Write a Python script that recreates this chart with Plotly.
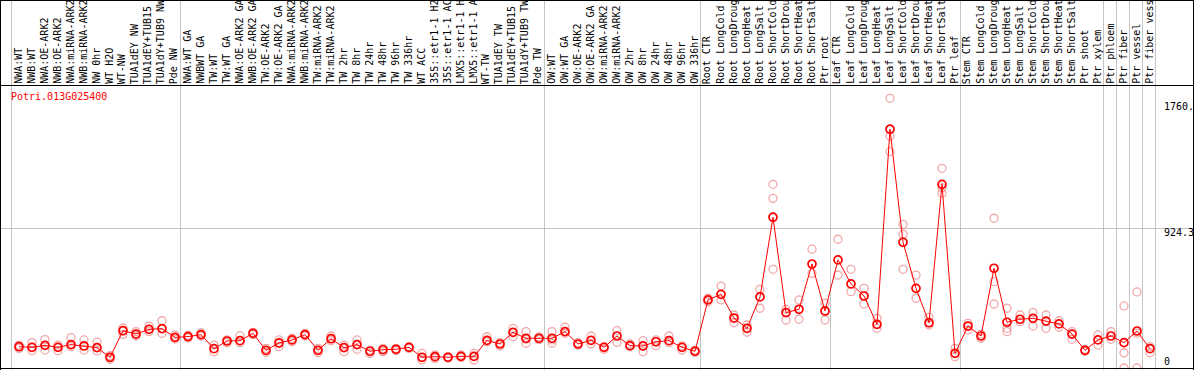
import plotly.graph_objects as go

categories = [
    "NWA:WT", "NWB:WT", "NWA:OE-ARK2", "NWB:OE-ARK2", "NWA:miRNA-ARK2", "NWB:miRNA-ARK2",
    "NW 0hr", "WT H2O", "WT-NW", "TUA1dEY NW", "TUA1dEY+TUB15 NW", "TUA1dY+TUB9 NW", "Pde NW",
    "NWA:WT GA", "NWBWT GA", "TW:WT", "TW:WT GA", "NWA:OE-ARK2 GA", "NWB:OE-ARK2 GA",
    "TW:OE-ARK2", "TW:OE-ARK2 GA", "NWA:miRNA-ARK2 GA", "NWB:miRNA-ARK2 GA", "TW:miRNA-ARK2",
    "TW:miRNA-ARK2 GA", "TW 2hr", "TW 8hr", "TW 24hr", "TW 48hr", "TW 96hr", "TW 336hr",
    "WT ACC", "35S::etr1-1 H2O", "35S::etr1-1 ACC", "LMX5::etr1-1 H2O", "LMX5::etr1-1 ACC",
    "WT-TW", "TUA1dEY TW", "TUA1dEY+TUB15 TW", "TUA1dY+TUB9 TW", "Pde TW",
    "OW:WT", "OW:WT GA", "OW:OE-ARK2", "OW:OE-ARK2 GA", "OW:miRNA-ARK2", "OW:miRNA-ARK2 GA",
    "OW 2hr", "OW 8hr", "OW 24hr", "OW 48hr", "OW 96hr", "OW 336hr",
    "Root CTR", "Root LongCold", "Root LongDrought", "Root LongHeat", "Root LongSalt",
    "Root ShortCold", "Root ShortDrought", "Root ShortHeat", "Root ShortSalt", "Ptr root",
    "Leaf CTR", "Leaf LongCold", "Leaf LongDrought", "Leaf LongHeat", "Leaf LongSalt",
    "Leaf ShortCold", "Leaf ShortDrought", "Leaf ShortHeat", "Leaf ShortSalt", "Ptr leaf",
    "Stem CTR", "Stem LongCold", "Stem LongDrought", "Stem LongHeat", "Stem LongSalt",
    "Stem ShortCold", "Stem ShortDrought", "Stem ShortHeat", "Stem ShortSalt", "Ptr shoot",
    "Ptr xylem", "Ptr phloem", "Ptr fiber", "Ptr vessel", "Ptr fiber vessel",
]

mean_values = [
    141, 137, 150, 137, 155, 146, 135, 71, 247, 225, 256, 261, 203,
    208, 221, 128, 179, 181, 230, 117, 166, 186, 221, 117, 194, 135, 155, 111, 121, 124, 137,
    71, 75, 71, 77, 77, 183, 159, 236, 197, 197,
    197, 241, 159, 183, 137, 212, 148, 146, 174, 181, 137, 111,
    451, 488, 331, 263, 471, 999, 367, 389, 689, 378,
    716, 557, 477, 289, 1582, 833, 528, 300, 1217, 97,
    278, 212, 661, 303, 323, 329, 311, 292, 225, 117,
    186, 212, 168, 245, 128,
]

rep1 = [
    130, 168, 188, 152, 201, 186, 172, 82, 265, 241, 278, 313, 219,
    217, 234, 152, 186, 214, 236, 130, 186, 197, 230, 130, 212, 152, 186, 119, 130, 130, 141,
    97, 86, 75, 86, 97, 207, 168, 263, 241, 206,
    241, 270, 168, 212, 141, 247, 159, 181, 186, 212, 146, 119,
    439, 543, 351, 285, 521, 1217, 389, 451, 787, 429,
    853, 654, 528, 329, 1787, 952, 616, 336, 1323, 130,
    296, 197, 992, 396, 351, 367, 351, 313, 241, 124,
    219, 241, 411, 504, 141,
]

rep2 = [
    152, 115, 119, 115, 141, 119, 113, 58, 223, 212, 241, 230, 192,
    199, 212, 108, 168, 168, 221, 104, 141, 175, 212, 102, 181, 108, 124, 97, 108, 117, 130,
    53, 64, 66, 70, 53, 174, 146, 207, 190, 188,
    186, 230, 152, 159, 124, 170, 141, 108, 148, 168, 119, 104,
    462, 451, 300, 237, 396, 1124, 318, 323, 627, 318,
    616, 506, 424, 263, 1537, 886, 462, 285, 1195, 75,
    252, 225, 572, 263, 307, 278, 263, 270, 190, 111,
    152, 190, 101, 0, 101,
]

rep3 = [None] * 39 + [164, None, 164] + [None] * 16 + [654] + [None] * 8 + [1434, 654] + [None] * 2 + [1158] + [None] * 3 + [424, 241] + [None] * 8 + [0, 231, None]

group_starts = [0, 13, 41, 53, 63, 73, 84, 85, 86, 87, 88]
gene_id = "Potri.013G025400"
axis_marks = [1760.0, 924.3, 0.0]
axis_labels = ["1760.", "924.3", "0"]

# ---- layout geometry ----
W, H = 1194, 370
ML, MR, MT, MB = 1, 1, 85, 2
PW = W - ML - MR
PH = H - MT - MB
STEP = 13.0
FIRST = 19.0
x_min = -(FIRST - ML) / STEP
x_max = x_min + PW / STEP
y_max = 1875.0
FONT = "DejaVu Sans Mono"
GRAY = "#c4c4c4"


def pxx(p):
    return (p - ML) / PW


def pxy(p):
    return (H - MB - p) / PH


n = len(categories)
xs = list(range(n))

rx, ry = [], []
for reps in (rep1, rep2, rep3):
    for i, v in enumerate(reps):
        if v is not None:
            rx.append(i)
            ry.append(v)

fig = go.Figure()
fig.add_trace(go.Scatter(
    x=rx, y=ry, mode="markers",
    marker=dict(symbol="circle-open", size=8, color="rgba(232,110,110,0.6)",
                line=dict(width=1.3, color="rgba(232,110,110,0.6)")),
    hoverinfo="skip",
))
fig.add_trace(go.Scatter(
    x=xs, y=mean_values, mode="lines+markers",
    line=dict(color="#ff0000", width=1),
    marker=dict(symbol="circle-open", size=8, color="#ff0000",
                line=dict(width=1.7, color="#ff0000")),
    text=categories, hoverinfo="text+y",
))

shapes = []
# vertical group separators (full height)
for k in group_starts:
    xv = k - 7.5 / STEP
    shapes.append(dict(type="line", xref="x", yref="paper", x0=xv, x1=xv,
                       y0=pxy(H), y1=pxy(0), line=dict(color=GRAY, width=1), layer="below"))
# horizontal grid line at mid value
shapes.append(dict(type="line", xref="paper", yref="y", x0=pxx(0), x1=pxx(1193.5),
                   y0=axis_marks[1], y1=axis_marks[1], line=dict(color=GRAY, width=1), layer="below"))
# black frame
blk = dict(color="black", width=1)
shapes += [
    dict(type="line", xref="paper", yref="paper", x0=pxx(0), x1=pxx(1194), y0=pxy(0.5), y1=pxy(0.5), line=blk),
    dict(type="line", xref="paper", yref="paper", x0=pxx(0), x1=pxx(1194), y0=pxy(85.5), y1=pxy(85.5), line=blk),
    dict(type="line", xref="paper", yref="paper", x0=pxx(0), x1=pxx(1194), y0=pxy(368.5), y1=pxy(368.5), line=blk),
    dict(type="line", xref="paper", yref="paper", x0=pxx(0.5), x1=pxx(0.5), y0=pxy(0), y1=pxy(370), line=blk),
    dict(type="line", xref="paper", yref="paper", x0=pxx(1193.5), x1=pxx(1193.5), y0=pxy(0), y1=pxy(370), line=blk),
]

annotations = []
for i, lab in enumerate(categories):
    annotations.append(dict(
        x=i - 1.2 / STEP, xref="x", y=pxy(85), yref="paper",
        text=lab, textangle=-90, showarrow=False, xanchor="center", yanchor="bottom",
        borderpad=0, font=dict(family=FONT, size=10, color="black"),
    ))
annotations.append(dict(
    x=pxx(9.5), xref="paper", y=pxy(97), yref="paper", text=gene_id, showarrow=False,
    xanchor="left", yanchor="middle", borderpad=0, font=dict(family=FONT, size=10, color="#ff0000"),
))
for val, lab in zip(axis_marks, axis_labels):
    annotations.append(dict(
        x=pxx(1162.5), xref="paper", y=val, yref="y", text=lab, showarrow=False,
        xanchor="left", yanchor="bottom" if val == 0 else "top", yshift=0 if val == 0 else 2,
        borderpad=0, font=dict(family=FONT, size=10, color="black"),
    ))

fig.update_layout(
    width=W, height=H,
    margin=dict(l=ML, r=MR, t=MT, b=MB, pad=0),
    paper_bgcolor="white", plot_bgcolor="white",
    showlegend=False,
    xaxis=dict(range=[x_min, x_max], visible=False, fixedrange=True),
    yaxis=dict(range=[0, y_max], visible=False, fixedrange=True),
    shapes=shapes, annotations=annotations,
)

fig.write_html(
    "out.html",
    config={"displayModeBar": False},
    post_script="document.body.style.margin='0';document.body.style.padding='0';",
)
